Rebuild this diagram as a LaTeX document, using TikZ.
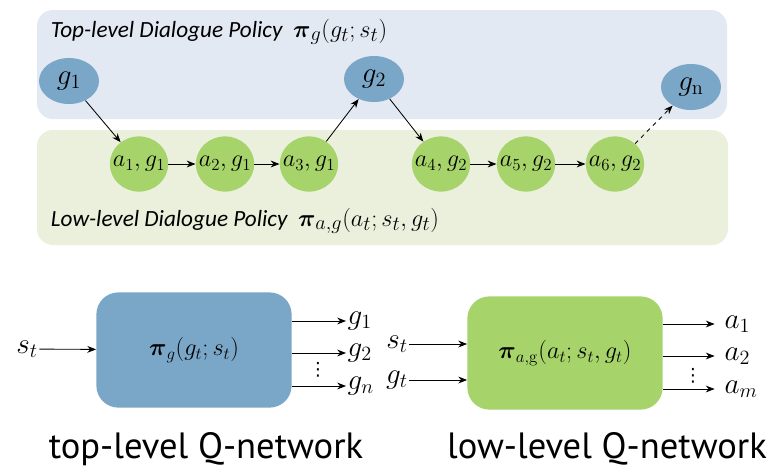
\documentclass[tikz,border=0pt]{standalone}
\usepackage{amsmath}
\usepackage{amssymb}
\usepackage[no-math]{fontspec}
\setmainfont{Carlito}
\newfontfamily\capfont{PT Sans}
\newfontfamily\symfont{DejaVu Sans}
\usetikzlibrary{shapes.geometric,arrows.meta}

\definecolor{topblue}{RGB}{122,167,199}
\definecolor{topband}{RGB}{227,233,243}
\definecolor{lowgreen}{RGB}{166,211,106}
\definecolor{lowband}{RGB}{235,240,221}

\newcommand{\bigmath}[1]{{\fontsize{19}{20}\selectfont$#1$}}

\tikzset{
  goal/.style={ellipse, fill=topblue, minimum width=1.5cm, minimum height=1.15cm, inner sep=0pt, font=\fontsize{20}{22}\selectfont},
  act/.style={ellipse, fill=lowgreen, minimum width=1.46cm, minimum height=1.38cm, inner sep=0pt, font=\fontsize{18.5}{20}\selectfont},
  net/.style={rounded corners=0.55cm, minimum width=4.88cm, minimum height=2.88cm, font=\fontsize{18}{20}\selectfont},
  lab/.style={inner sep=1pt, font=\fontsize{20}{22}\selectfont},
  dots/.style={inner sep=0pt, font=\symfont\fontsize{13}{14}\selectfont},
  band label/.style={anchor=west, font=\fontsize{16.5}{18}\selectfont\itshape},
  arr/.style={-{Stealth[length=2.2mm,width=1.7mm]}, semithick},
}

\begin{document}
\begin{tikzpicture}[x=0.025cm, y=-0.025cm]
\useasboundingbox (0,0) rectangle (769,468);

% the two policy levels
\fill[topband, rounded corners=0.4cm] (37,10) rectangle (727,119);
\fill[lowband, rounded corners=0.4cm] (37,130) rectangle (728,245);
\node[band label] (toplab) at (46,32) {Top-level Dialogue Policy\ \ \bigmath{\boldsymbol{\pi}_g(g_t;s_t)}};
\node[band label] (lowlab) at (46,221) {Low-level Dialogue Policy\ \ \bigmath{\boldsymbol{\pi}_{a,g}(a_t;s_t,g_t)}};

\node[goal] (g1) at (69,81) {$g_1$};
\node[goal] (g2) at (374,79) {$g_2$};
\node[goal] (gn) at (691,87) {$g_{\mathrm{n}}$};

\node[act] (a1) at (139,164) {\makebox[0pt]{$a_1,g_1$}};
\node[act] (a2) at (225,164) {\makebox[0pt]{$a_2,g_1$}};
\node[act] (a3) at (309,164) {\makebox[0pt]{$a_3,g_1$}};
\node[act] (a4) at (441,164) {\makebox[0pt]{$a_4,g_2$}};
\node[act] (a5) at (526,164) {\makebox[0pt]{$a_5,g_2$}};
\node[act] (a6) at (615,164) {\makebox[0pt]{$a_6,g_2$}};

\draw[arr] (g1) -- (a1);
\draw[arr] (a1) -- (a2);
\draw[arr] (a2) -- (a3);
\draw[arr] (a3) -- (g2);
\draw[arr] (g2) -- (a4);
\draw[arr] (a4) -- (a5);
\draw[arr] (a5) -- (a6);
\draw[arr, dashed] (a6) -- (gn);

% top-level Q-network
\node[net, fill=topblue] (topq) at (194,350) {$\boldsymbol{\pi}_g(g_t;s_t)$};
\node[lab] (st) at (27,349) {$s_t$};
\node[lab, anchor=west] (og1) at (346,321) {$g_1$};
\node[lab, anchor=west] (og2) at (346,353) {$g_2$};
\node[lab, anchor=west] (ogn) at (346,386) {$g_n$};
\node[dots] (tdots) at (318,370) {⋮};
\draw[arr] (st) -- (topq);
\draw[arr] (topq.east |- og1) -- (og1);
\draw[arr] (topq.east |- og2) -- (og2);
\draw[arr] (topq.east |- ogn) -- (ogn);

% low-level Q-network
\node[net, fill=lowgreen, minimum height=2.83cm] (lowq) at (565,353) {$\boldsymbol{\pi}_{a,\mathrm{g}}(a_t;s_t,g_t)$};
\node[lab] (lst) at (397,344) {$s_t$};
\node[lab] (lgt) at (397,380) {$g_t$};
\node[lab, anchor=west] (oa1) at (723,324) {$a_1$};
\node[lab, anchor=west] (oa2) at (723,356) {$a_2$};
\node[lab, anchor=west] (oam) at (723,389) {$a_m$};
\node[dots] (ldots) at (693,376) {⋮};
\draw[arr] (lst) -- (lst -| lowq.west);
\draw[arr] (lgt) -- (lgt -| lowq.west);
\draw[arr, shorten >=6pt] (lowq.east |- oa1) -- (oa1);
\draw[arr, shorten >=6pt] (lowq.east |- oa2) -- (oa2);
\draw[arr, shorten >=6pt] (lowq.east |- oam) -- (oam);

\node[font=\capfont\fontsize{26}{28}\selectfont] (topcap) at (206,449) {top-level Q-network};
\node[font=\capfont\fontsize{26}{28}\selectfont] (lowcap) at (607,449) {low-level Q-network};
\end{tikzpicture}
\end{document}
